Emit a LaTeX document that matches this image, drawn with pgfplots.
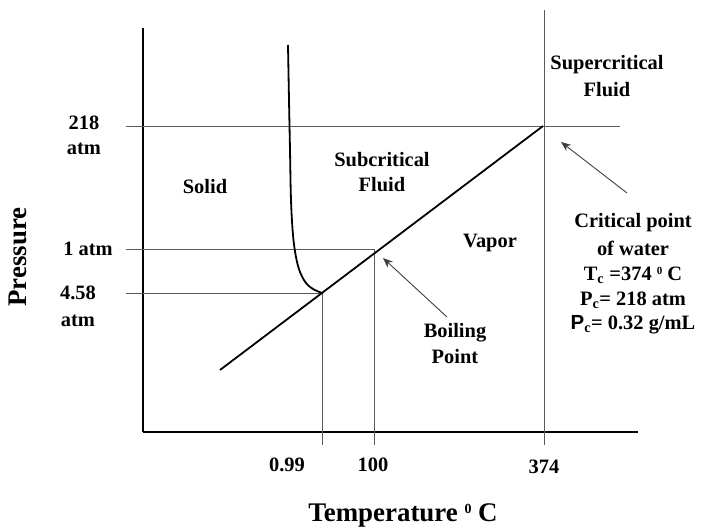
\documentclass[border=0pt]{standalone}
\usepackage{pgfplots}
\pgfplotsset{compat=1.18}
\usepackage{fontspec}
\setmainfont{Liberation Serif}
\setsansfont{Liberation Sans}
\usetikzlibrary{arrows.meta}
\definecolor{gridgray}{HTML}{5A5A5A}
\tikzset{lbl/.style={font=\fontsize{20.5}{24}\selectfont\bfseries, inner sep=0pt}}
\newcommand{\degsup}[1]{{\fontsize{#1}{#1}\selectfont\raisebox{0.55em}{0}}}
\begin{document}
\begin{tikzpicture}
\begin{axis}[
  x=1bp, y=1bp,
  xmin=0, xmax=495, ymin=0, ymax=404,
  axis lines=left,
  axis line style={-, line width=2bp, black},
  xtick=\empty, ytick=\empty,
  clip=false,
]
% invisible frame giving the picture its size
\path (axis cs:-143,-95) rectangle (axis cs:558,432);
% guide lines
\addplot[gridgray, line width=0.9bp] coordinates {(-17,306) (477,306)};
\addplot[gridgray, line width=0.9bp] coordinates {(-17,183) (231,183)};
\addplot[gridgray, line width=0.9bp] coordinates {(-17,139) (179,139)};
\addplot[gridgray, line width=0.9bp] coordinates {(179,-13) (179,139)};
\addplot[gridgray, line width=0.9bp] coordinates {(231,-13) (231,183)};
\addplot[gridgray, line width=0.9bp] coordinates {(401,-13) (401,422)};
% melting curve
\addplot[black, line width=1.8bp, smooth, tension=0.6] coordinates {
  (145,387) (146,332) (147,282) (148,232) (150,197) (153,175) (157,160) (163,149) (170,143) (179,139)};
% liquid-vapour line
\addplot[black, line width=1.8bp] coordinates {(77,62) (400,306)};
% arrows
\addplot[gridgray!70!black, line width=0.9bp, -{Stealth[length=10bp,width=8bp]}] coordinates {(304,115) (240,174)};
\addplot[gridgray!70!black, line width=0.9bp, -{Stealth[length=10bp,width=8bp]}] coordinates {(484,239) (418,290)};
% region labels
\node[lbl] at (axis cs:464,367) {Supercritical};
\node[lbl] at (axis cs:464,342) {Fluid};
\node[lbl] at (axis cs:62,245) {Solid};
\node[lbl] at (axis cs:239,272) {Subcritical};
\node[lbl] at (axis cs:239,247) {Fluid};
\node[lbl] at (axis cs:347,189) {Vapor};
\node[lbl] at (axis cs:312,99) {Boiling};
\node[lbl] at (axis cs:312,75) {Point};
\node[lbl] at (axis cs:490,209) {Critical point};
\node[lbl] at (axis cs:490,184) {of water};
\node[lbl] at (axis cs:490,157) {T\textsubscript{c} =374 \degsup{11} C};
\node[lbl] at (axis cs:490,132) {P\textsubscript{c}= 218 atm};
\node[lbl] at (axis cs:490,107) {{\sffamily P}\textsubscript{c}= 0.32 g/mL};
% y labels
\node[lbl] at (axis cs:-59,309) {218};
\node[lbl] at (axis cs:-59,283) {atm};
\node[lbl] at (axis cs:-55,183) {1 atm};
\node[lbl] at (axis cs:-65,139) {4.58};
\node[lbl] at (axis cs:-65,111) {atm};
\node[lbl, rotate=90, font=\fontsize{27}{30}\selectfont\bfseries] at (axis cs:-125,175) {Pressure};
% x labels
\node[lbl] at (axis cs:144,-33) {0.99};
\node[lbl] at (axis cs:230,-33) {100};
\node[lbl] at (axis cs:401,-35) {374};
\node[lbl, font=\fontsize{27}{30}\selectfont\bfseries] at (axis cs:260,-83) {Temperature \degsup{14} C};
\end{axis}
\end{tikzpicture}
\end{document}
